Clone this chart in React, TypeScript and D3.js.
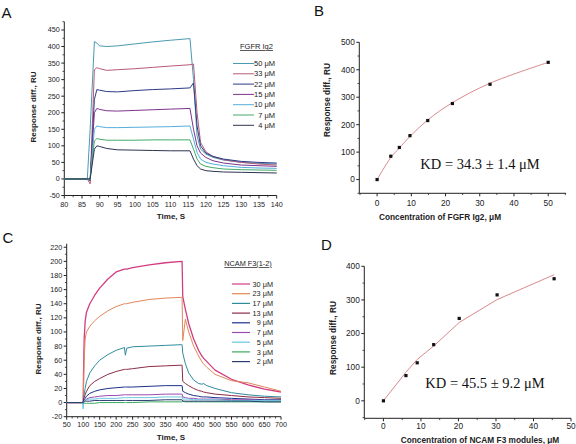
import React from "react";
import * as d3 from "d3";

// ---------- Panel A: FGFR Ig2 sensorgrams ----------
const timeA = [80, 86.5, 87.3, 88.5, 89.2, 90, 92, 95, 100, 105, 110, 115.5, 116.5, 117.5, 118.5, 120, 122, 125, 130, 135, 140];
const seriesALabels = ["50 μM", "33 μM", "22 μM", "15 μM", "10 μM", "7 μM", "4 μM"];
const seriesAColors = ["#4a9ab0", "#b85a78", "#2c3a86", "#7e348e", "#55aedb", "#44aa66", "#2e3450"];
const a50 = [0, 0, 150, 415, 410, 402, 400, 402, 408, 414, 419, 424, 300, 130, 90, 75, 65, 57, 50, 47, 45];
const a33 = [0, 0, -15, 330, 336, 333, 328, 330, 333, 337, 341, 345, 347, 200, 110, 82, 68, 58, 50, 45, 42];
const a22 = [0, 0, -5, 240, 270, 268, 264, 263, 267, 270, 272, 275, 290, 160, 100, 78, 68, 60, 53, 50, 48];
const a15 = [0, 0, -3, 200, 213, 210, 206, 205, 207, 209, 211, 213, 150, 100, 78, 65, 55, 48, 42, 40, 38];
const a10 = [0, 0, -2, 150, 160, 158, 155, 155, 156, 157, 158, 160, 120, 80, 60, 50, 45, 40, 35, 33, 32];
const a7 = [0, 0, -1, 115, 122, 120, 117, 117, 117, 118, 118, 118, 90, 60, 45, 38, 34, 30, 28, 27, 26];
const a4 = [0, 0, 0, 90, 100, 98, 92, 88, 87, 86, 85, 85, 60, 40, 30, 25, 23, 21, 20, 19, 18];
const seriesA = [a50, a33, a22, a15, a10, a7, a4];
const xTicksA = [80, 85, 90, 95, 100, 105, 110, 115, 120, 125, 130, 135, 140];
const yTicksA = [-50, 0, 50, 100, 150, 200, 250, 300, 350, 400, 450];

// ---------- Panel B: FGFR Ig2 binding curve ----------
const concB = [0, 4, 6.5, 9.6, 14.8, 22, 33, 50];
const respB = [0, 85, 117, 160, 215, 277, 347, 427];
const fitB = [0, 80, 115, 157, 217, 280, 351, 427];
const xTicksB = [0, 10, 20, 30, 40, 50];
const yTicksB = [0, 100, 200, 300, 400, 500];

// ---------- Panel C: NCAM F3(1-2) sensorgrams ----------
const timeC = [50, 98, 100, 101, 103, 106, 110, 120, 135, 150, 175, 200, 225, 228, 232, 250, 300, 350, 398, 400, 402, 410, 420, 435, 450, 460, 465, 475, 500, 550, 600, 650, 700];
const seriesCLabels = ["30 μM", "23 μM", "17 μM", "13 μM", "9 μM", "7 μM", "5 μM", "3 μM", "2 μM"];
const seriesCColors = ["#d23c80", "#e0875a", "#2f8c9c", "#8c2c46", "#1c308c", "#9a4cae", "#6cc8e2", "#3aaa5c", "#2a3c72"];
const c30 = [0, 0, 0, 40, 90, 115, 128, 140, 152, 162, 175, 185, 189, 189, 189, 191, 195, 198, 200, 200, 150, 132, 112, 90, 74, 66, 63, 58, 46, 33, 25, 19, 15];
const c23 = [0, 0, 0, 20, 60, 90, 100, 108, 116, 122, 130, 136, 140, 140, 140, 142, 146, 148, 149, 149, 88, 118, 100, 80, 66, 58, 55, 50, 40, 31, 28, 22, 16];
const c17 = [0, 0, 0, 5, 12, 20, 30, 42, 52, 60, 68, 74, 78, 67, 77, 79, 80, 81, 82, 82, 70, 55, 42, 32, 27, 26, 27, 24, 20, 14, 11, 9, 8];
const c13 = [0, 0, 0, 3, 7, 11, 16, 24, 30, 34, 40, 44, 47, 47, 47, 48, 51, 52, 53, 53, 30, 27, 24, 20, 17, 16, 15, 14, 12, 10, 8, 7, 6];
const c9 = [0, 0, 0, 2, 4, 6, 9, 13, 16, 18, 20, 21, 22, 22, 22, 22, 23, 24, 24, 24, 16, 14, 12, 10, 9, 8, 8, 8, 7, 6, 5, 4, 4];
const c7 = [0, 0, 0, 1, 2, 3, 5, 7, 8, 9, 10, 10, 11, 11, 11, 11, 11, 12, 12, 12, 8, 7, 6, 6, 5, 5, 5, 5, 5, 4, 4, 3, 3];
const c5 = [0, 0, -9, 0, 2, 3, 4, 5, 5, 6, 6, 6, 7, 7, 7, 7, 7, 8, 8, 8, 5, 5, 5, 4, 4, 4, 4, 4, 4, 3, 3, 3, 3];
const c3 = [0, 0, -1, -1, -1, -1, -1, -1, -1, 0, 0, 0, 0, 0, 0, 0, 1, 1, 1, 1, 2, 1, 1, 1, 1, 1, 1, 1, 1, 1, 1, 1, 1];
const c2 = [0, 0, 0, 1, 1, 2, 2, 2, 3, 3, 3, 3, 3, 3, 3, 3, 3, 4, 4, 4, 2, 2, 2, 2, 2, 2, 2, 2, 2, 2, 2, 1, 1];
const seriesC = [c30, c23, c17, c13, c9, c7, c5, c3, c2];
const xTicksC = [50, 100, 150, 200, 250, 300, 350, 400, 450, 500, 550, 600, 650, 700];
const yTicksC = [-20, 0, 20, 40, 60, 80, 100, 120, 140, 160, 180, 200, 220];

// ---------- Panel D: NCAM F3 binding curve ----------
const concD = [0, 6, 9, 13.4, 20.2, 30.3, 45.5];
const respD = [0, 75, 113, 167, 245, 315, 363];
const fitD = [0, 85, 123, 163, 233, 301, 375];
const xTicksD = [0, 10, 20, 30, 40, 50];
const yTicksD = [0, 100, 200, 300, 400];

const SANS = "'Liberation Sans', Arial, sans-serif";
const SERIF = "'Liberation Serif', 'Times New Roman', serif";
const AXIS = "#222";

type AxisProps = {
  x: d3.ScaleLinear<number, number>;
  y: d3.ScaleLinear<number, number>;
  xTicks: number[];
  yTicks: number[];
  xMinor: number[];
  yMinor: number[];
  fs: number;
  labelOffset: number;
  xTitle: string;
  yTitle: string;
  xTitleX: number;
  xTitleY: number;
  yTitleX: number;
  yTitleY: number;
  titleFs: number;
};

function Axes(p: AxisProps) {
  const [x0, x1] = p.x.range();
  const [y0, y1] = p.y.range();
  const left = x0;
  const bottom = y0;
  return (
    <g fontFamily={SANS}>
      <line x1={left} x2={left} y1={bottom} y2={y1} stroke={AXIS} strokeWidth={1} />
      <line x1={left} x2={x1} y1={bottom} y2={bottom} stroke={AXIS} strokeWidth={1} />
      {p.xTicks.map((t) => (
        <g key={"xt" + t}>
          <line x1={p.x(t)} x2={p.x(t)} y1={bottom} y2={bottom + 3} stroke={AXIS} />
          <text x={p.x(t)} y={bottom + p.labelOffset} fontSize={p.fs} textAnchor="middle" fill="#222">{t}</text>
        </g>
      ))}
      {p.xMinor.map((t) => (
        <line key={"xm" + t} x1={p.x(t)} x2={p.x(t)} y1={bottom} y2={bottom + 1.8} stroke={AXIS} strokeWidth={0.8} />
      ))}
      {p.yTicks.map((t) => (
        <g key={"yt" + t}>
          <line x1={left - 3} x2={left} y1={p.y(t)} y2={p.y(t)} stroke={AXIS} />
          <text x={left - 4.5} y={p.y(t) + p.fs * 0.35} fontSize={p.fs} textAnchor="end" fill="#222">{t}</text>
        </g>
      ))}
      {p.yMinor.map((t) => (
        <line key={"ym" + t} x1={left - 1.8} x2={left} y1={p.y(t)} y2={p.y(t)} stroke={AXIS} strokeWidth={0.8} />
      ))}
      <text x={p.xTitleX} y={p.xTitleY} fontSize={p.titleFs} fontWeight="bold" textAnchor="middle" fill="#222">{p.xTitle}</text>
      <text
        transform={`translate(${p.yTitleX},${p.yTitleY}) rotate(-90)`}
        fontSize={p.titleFs}
        fontWeight="bold"
        textAnchor="middle"
        fill="#222"
      >
        {p.yTitle}
      </text>
    </g>
  );
}

function minorRange(a: number, b: number, step: number, majors: number[]) {
  return d3.range(a, b + step / 2, step).filter((v) => !majors.some((m) => Math.abs(m - v) < 1e-6));
}

export default function App() {
  // Panel A
  const xA = d3.scaleLinear().domain([80, 140]).range([64.3, 276.7]);
  const yA = d3.scaleLinear().domain([-50, 475]).range([195.5, 21.7]);
  const lineA = (vals: number[]) =>
    d3.line<number>().x((_, i) => xA(timeA[i])).y((v) => yA(v))(vals) || "";

  // Panel B
  const xB = d3.scaleLinear().domain([-5.2, 55.2]).range([359.3, 566]);
  const yB = d3.scaleLinear().domain([-50, 500]).range([193.3, 42.3]);
  const fitLineB = d3.line<number>().x((_, i) => xB(concB[i])).y((v) => yB(v)).curve(d3.curveCatmullRom)(fitB) || "";

  // Panel C
  const xC = d3.scaleLinear().domain([50, 700]).range([66.7, 281]);
  const yC = d3.scaleLinear().domain([-20, 225]).range([416.7, 243.7]);
  const lineC = (vals: number[]) =>
    d3.line<number>().x((_, i) => xC(timeC[i])).y((v) => yC(v))(vals) || "";

  // Panel D
  const xD = d3.scaleLinear().domain([-5.1, 50]).range([364.3, 571]);
  const yD = d3.scaleLinear().domain([-52, 400]).range([418.3, 266.3]);
  const fitLineD = d3.line<number>().x((_, i) => xD(concD[i])).y((v) => yD(v))(fitD) || "";

  const legA = { x1: 233, x2: 254, tx: 275, y0: 63.5, dy: 10.3, titleX: 256.5, titleY: 49 };
  const legC = { x1: 232, x2: 250, tx: 273, y0: 284, dy: 9.7, titleX: 248, titleY: 266 };

  return (
    <svg width={576} height={444} style={{ position: "absolute", left: 0, top: 0, background: "#fff" }}>
      <rect x={0} y={0} width={576} height={444} fill="#fff" />

      {/* Panel letters */}
      <g fontFamily={SANS} fontSize={15} fill="#111">
        <text x={1.5} y={17.5}>A</text>
        <text x={314} y={15.5}>B</text>
        <text x={2.5} y={242.5}>C</text>
        <text x={321} y={249.5}>D</text>
      </g>

      {/* ===== Panel A ===== */}
      <Axes
        x={xA}
        y={yA}
        xTicks={xTicksA}
        yTicks={yTicksA}
        xMinor={minorRange(80, 140, 2.5, xTicksA)}
        yMinor={minorRange(-50, 475, 25, yTicksA)}
        fs={7.2}
        labelOffset={11}
        xTitle="Time, S"
        yTitle="Response diff., RU"
        xTitleX={171}
        xTitleY={219}
        yTitleX={36}
        yTitleY={107}
        titleFs={8}
      />
      <g fill="none" strokeWidth={1} strokeLinejoin="round">
        {seriesA.map((s, i) => (
          <path key={"a" + i} d={lineA(s)} stroke={seriesAColors[i]} />
        ))}
      </g>
      <g fontFamily={SANS} fontSize={7.5} fill="#222">
        <text x={legA.titleX} y={legA.titleY} textAnchor="middle" textDecoration="underline">FGFR Ig2</text>
        {seriesALabels.map((l, i) => (
          <g key={"la" + i}>
            <line x1={legA.x1} x2={legA.x2} y1={legA.y0 + i * legA.dy} y2={legA.y0 + i * legA.dy} stroke={seriesAColors[i]} strokeWidth={1} />
            <text x={legA.tx} y={legA.y0 + i * legA.dy + 2.6} textAnchor="end">{l}</text>
          </g>
        ))}
      </g>

      {/* ===== Panel B ===== */}
      <Axes
        x={xB}
        y={yB}
        xTicks={xTicksB}
        yTicks={yTicksB}
        xMinor={minorRange(-5, 55, 5, xTicksB)}
        yMinor={minorRange(-50, 500, 50, yTicksB)}
        fs={8.3}
        labelOffset={12.4}
        xTitle="Concentration of FGFR Ig2, μM"
        yTitle="Response diff., RU"
        xTitleX={440}
        xTitleY={220}
        yTitleX={329.5}
        yTitleY={100}
        titleFs={8.3}
      />
      <path d={fitLineB} fill="none" stroke="#d98a8e" strokeWidth={1} />
      {concB.map((c, i) => (
        <rect key={"pb" + i} x={xB(c) - 1.6} y={yB(respB[i]) - 1.6} width={3.2} height={3.2} fill="#111" />
      ))}
      <text x={480} y={168.5} fontFamily={SERIF} fontSize={14.5} textAnchor="middle" fill="#111">KD = 34.3 ± 1.4 μM</text>

      {/* ===== Panel C ===== */}
      <Axes
        x={xC}
        y={yC}
        xTicks={xTicksC}
        yTicks={yTicksC}
        xMinor={minorRange(50, 700, 50 / 3, xTicksC)}
        yMinor={minorRange(-20, 225, 10, yTicksC)}
        fs={7.2}
        labelOffset={9.8}
        xTitle="Time, S"
        yTitle="Response diff., RU"
        xTitleX={171}
        xTitleY={440}
        yTitleX={41}
        yTitleY={339}
        titleFs={8}
      />
      <g fill="none" strokeWidth={1} strokeLinejoin="round">
        {seriesC.map((s, i) => (
          <path key={"c" + i} d={lineC(s)} stroke={seriesCColors[i]} strokeWidth={i === 0 ? 1.3 : 1} />
        ))}
      </g>
      <g fontFamily={SANS} fontSize={7.3} fill="#222">
        <text x={legC.titleX} y={legC.titleY} textAnchor="middle" textDecoration="underline">NCAM F3(1-2)</text>
        {seriesCLabels.map((l, i) => (
          <g key={"lc" + i}>
            <line x1={legC.x1} x2={legC.x2} y1={legC.y0 + i * legC.dy} y2={legC.y0 + i * legC.dy} stroke={seriesCColors[i]} strokeWidth={1.2} />
            <text x={legC.tx} y={legC.y0 + i * legC.dy + 2.6} textAnchor="end">{l}</text>
          </g>
        ))}
      </g>

      {/* ===== Panel D ===== */}
      <Axes
        x={xD}
        y={yD}
        xTicks={xTicksD}
        yTicks={yTicksD}
        xMinor={minorRange(-5, 50, 5, xTicksD)}
        yMinor={minorRange(-50, 400, 50, yTicksD)}
        fs={8.3}
        labelOffset={11}
        xTitle="Concentration of NCAM F3 modules, μM"
        yTitle="Response diff., RU"
        xTitleX={480}
        xTitleY={442.5}
        yTitleX={336}
        yTitleY={338}
        titleFs={8.3}
      />
      <path d={fitLineD} fill="none" stroke="#d98a8e" strokeWidth={1} />
      {concD.map((c, i) => (
        <rect key={"pd" + i} x={xD(c) - 1.6} y={yD(respD[i]) - 1.6} width={3.2} height={3.2} fill="#111" />
      ))}
      <text x={485} y={387.5} fontFamily={SERIF} fontSize={14.5} textAnchor="middle" fill="#111">KD = 45.5 ± 9.2 μM</text>
    </svg>
  );
}
